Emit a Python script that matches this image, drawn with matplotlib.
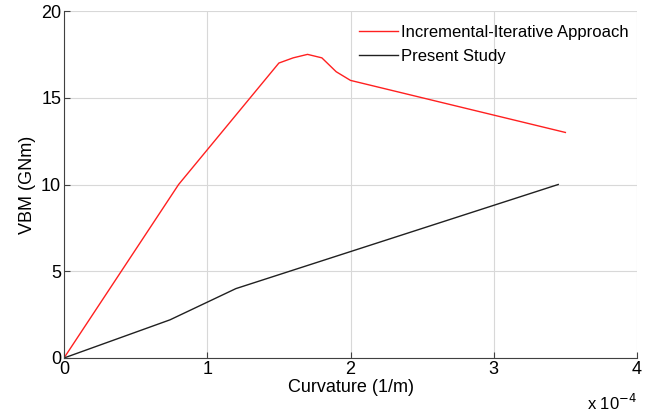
import numpy as np
from matplotlib import pyplot as plt

plt.rcParams['font.family'] = ['Liberation Sans', 'DejaVu Sans']

# curvature in units of 1e-4 1/m, VBM in GNm
inc_x = [0, 0.8, 1.5, 1.6, 1.7, 1.8, 1.9, 2.0, 3.5]
inc_y = [0, 10, 17, 17.3, 17.5, 17.3, 16.5, 16.0, 13.0]
pres_x = [0, 0.74, 1.2, 3.45]
pres_y = [0, 2.2, 4.0, 10.0]


def main():
    fig = plt.figure(figsize=(6.57, 4.16), dpi=100)
    ax = fig.add_axes([64 / 657, 58 / 416, 573 / 657, 347 / 416])
    ax.plot(inc_x, inc_y, color='#ff2020', lw=1.0, label='Incremental-Iterative Approach')
    ax.plot(pres_x, pres_y, color='#202020', lw=1.0, label='Present Study')
    ax.set_xlim(0, 4)
    ax.set_ylim(0, 20)
    ax.set_xticks([0, 1, 2, 3, 4])
    ax.set_yticks([0, 5, 10, 15, 20])
    ax.grid(True, color='#d8d8d8', lw=0.8)
    for s in ['top', 'right']:
        ax.spines[s].set_visible(False)
    for s in ['left', 'bottom']:
        ax.spines[s].set_color('#404040')
    ax.tick_params(direction='in', length=4, labelsize=13, color='#404040', pad=2)
    ax.set_xlabel('Curvature (1/m)', fontsize=13, labelpad=1)
    ax.set_ylabel('VBM (GNm)', fontsize=13, labelpad=4)
    ax.text(1.0, -0.1, r'x 10$^{-4}$', transform=ax.transAxes, ha='right', va='top', fontsize=12)
    ax.legend(loc='upper right', frameon=False, fontsize=12, handlelength=2.3,
              handletextpad=0.2, borderaxespad=0.1, labelspacing=0.55,
              bbox_to_anchor=(1.0, 0.985))
    fig.savefig('out.png')


if __name__ == "__main__":
    main()
